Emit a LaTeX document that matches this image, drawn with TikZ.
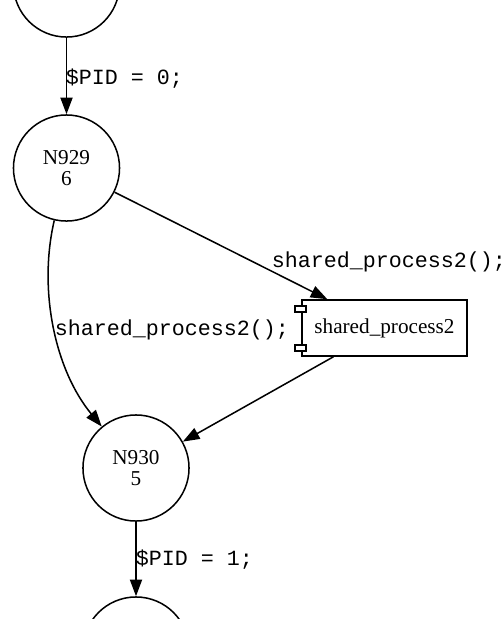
\documentclass[tikz,border=0pt]{standalone}
\usepackage{fontspec}
\setmainfont{Liberation Serif}
\newfontfamily\codefont{Liberation Mono}
\usepackage{tikz}
\usetikzlibrary{calc}
\usetikzlibrary{arrows.meta}
\tikzset{
  state/.style={draw,circle,minimum size=70pt,inner sep=0pt,align=center,font=\fontsize{14}{14}\selectfont},
  proc/.style={draw,rectangle,minimum width=109pt,minimum height=37pt,inner sep=0pt,font=\fontsize{14}{17}\selectfont},
  lbl/.style={anchor=base west,inner sep=0pt,font=\codefont\fontsize{14.3}{17}\selectfont},
  edge/.style={-{Triangle[length=11pt,width=8pt]}},
}
\begin{document}
\begin{tikzpicture}[x=0.66pt,y=-0.66pt,line width=1pt]
  \useasboundingbox (0,0) rectangle (504,619);
  \clip (0,0) rectangle (504,619);
  \node[state] (prev) at (66.5,-16) {};
  \node[state] (n929) at (66.5,168) {N929\\6};
  \node[proc] (sp) at (384.5,328) {shared\_process2};
  \node[state] (n930) at (136,468) {N930\\5};
  \node[state] (next) at (136,650) {};
  % component tabs
  \draw[fill=white] ($(sp.north west)+(-6,7)$) rectangle ++(11,6);
  \draw[fill=white] ($(sp.south west)+(-6,-12)$) rectangle ++(11,6);
  \draw[edge] (prev) -- (n929);
  \draw[edge] (n929) -- (sp);
  \draw[edge] (n929) .. controls (38,290) and (55,370) .. (n930);
  \draw[edge] (sp) -- (n930);
  \draw[edge] (n930) -- (next);
  \node[lbl] (l0) at (65,84) {\$PID = 0;};
  \node[lbl] (l1) at (271,267) {shared\_process2();};
  \node[lbl] (l2) at (54,335) {shared\_process2();};
  \node[lbl] (l3) at (135,565) {\$PID = 1;};
\end{tikzpicture}
\end{document}
